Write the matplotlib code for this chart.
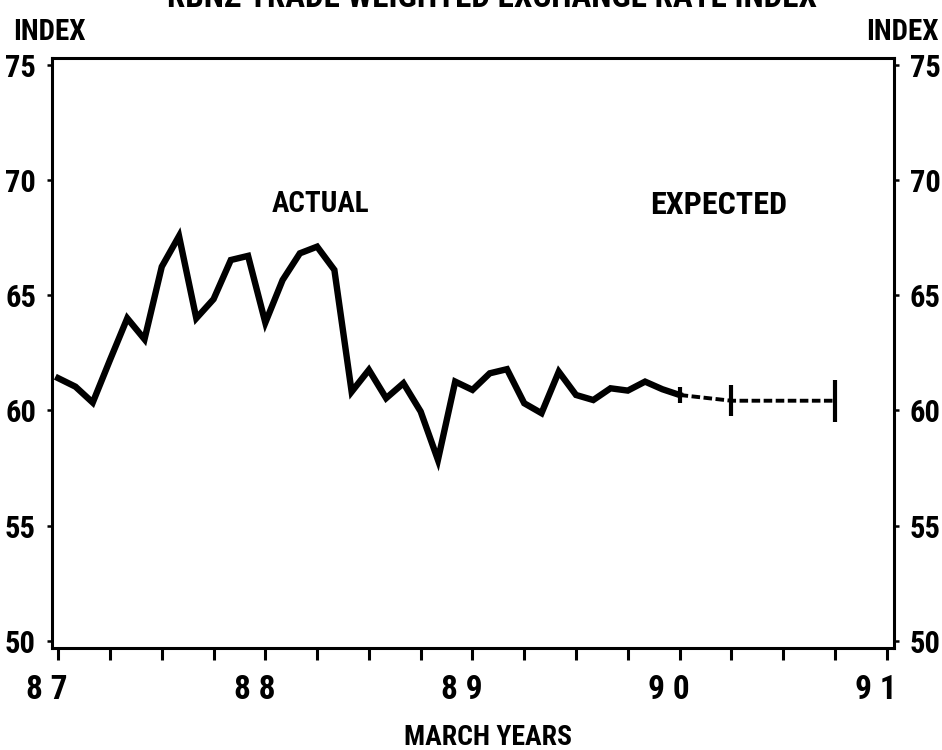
import matplotlib.pyplot as plt
import matplotlib.transforms as mtransforms
import numpy as np

# 数据（月度，从 1987 年 3 月开始）
actual_index = [61.40, 61.03, 60.34, 62.19, 64.00, 63.09, 66.24, 67.57, 64.00, 64.83,
                66.53, 66.71, 63.81, 65.66, 66.82, 67.11, 66.10, 60.81, 61.76, 60.53,
                61.18, 59.95, 57.85, 61.25, 60.89, 61.61, 61.79, 60.31, 59.88, 61.68,
                60.67, 60.45, 60.96, 60.86, 61.25, 60.92, 60.67]
expected_years = [90.0, 90.25, 90.75]
expected_index = [60.67, 60.42, 60.42]
expected_err = [0.36, 0.68, 0.92]
year_ticks = [87, 88, 89, 90, 91]
year_labels = ['8 7', '8 8', '8 9', '9 0', '9 1']
index_ticks = [50, 55, 60, 65, 70, 75]

# 窄体字（找不到就退回 DejaVu）
plt.rcParams['font.family'] = ['Roboto Condensed', 'Liberation Sans Narrow', 'DejaVu Sans']
plt.rcParams['font.stretch'] = 'condensed'
plt.rcParams['font.weight'] = 'bold'

actual_years = 87 + np.arange(len(actual_index)) / 12.0

fig = plt.figure(figsize=(9.42, 7.5), dpi=100)
ax = fig.add_axes([0.0552, 0.1356, 0.8938, 0.7867])

# 实际值
ax.plot(actual_years, actual_index, color='black', lw=4.6, solid_joinstyle='miter')
# 预期值（虚线 + 误差棒）
ax.plot(expected_years, expected_index, color='black', lw=2.8, dashes=(2.2, 0.9))
ax.errorbar(expected_years, expected_index, yerr=expected_err, fmt='none',
            ecolor='black', elinewidth=3.0, capsize=0)

ax.set_xlim(86.97, 91.035)
ax.set_ylim(49.67, 75.29)

for s in ax.spines.values():
    s.set_linewidth(2.2)

ax.set_xticks(year_ticks)
ax.set_xticklabels(year_labels, fontsize=24, fontweight='bold')
ax.set_xticks(np.arange(87, 91.01, 0.25), minor=True)
ax.tick_params(axis='x', which='both', direction='out', length=8.5, width=2.2, pad=10)

ax.set_yticks(index_ticks)
ax.set_yticklabels([str(v) for v in index_ticks], fontsize=22, fontweight='bold')
ax.tick_params(axis='y', direction='out', length=3.5, width=1.8, pad=8,
               right=True, labelright=True)

# x 轴标签稍微左移
offset = mtransforms.ScaledTranslation(-11 / 100, 0, fig.dpi_scale_trans)
for lab in ax.get_xticklabels():
    lab.set_transform(lab.get_transform() + offset)

ax.text(88.264, 68.62, 'ACTUAL', ha='center', va='baseline', fontsize=21, fontweight='bold')
ax.text(90.19, 68.53, 'EXPECTED', ha='center', va='baseline', fontsize=23, fontweight='bold')

fig.text(0.522, 0.9907, 'RBNZ TRADE WEIGHTED EXCHANGE RATE INDEX', ha='center',
         va='baseline', fontsize=23.8, fontweight='bold')
fig.text(0.052, 0.9467, 'INDEX', ha='center', va='baseline', fontsize=21, fontweight='bold')
fig.text(0.958, 0.9467, 'INDEX', ha='center', va='baseline', fontsize=21, fontweight='bold')
fig.text(0.518, 0.0067, 'MARCH YEARS', ha='center', va='baseline', fontsize=20, fontweight='bold')

plt.savefig('out.png', dpi=100)
